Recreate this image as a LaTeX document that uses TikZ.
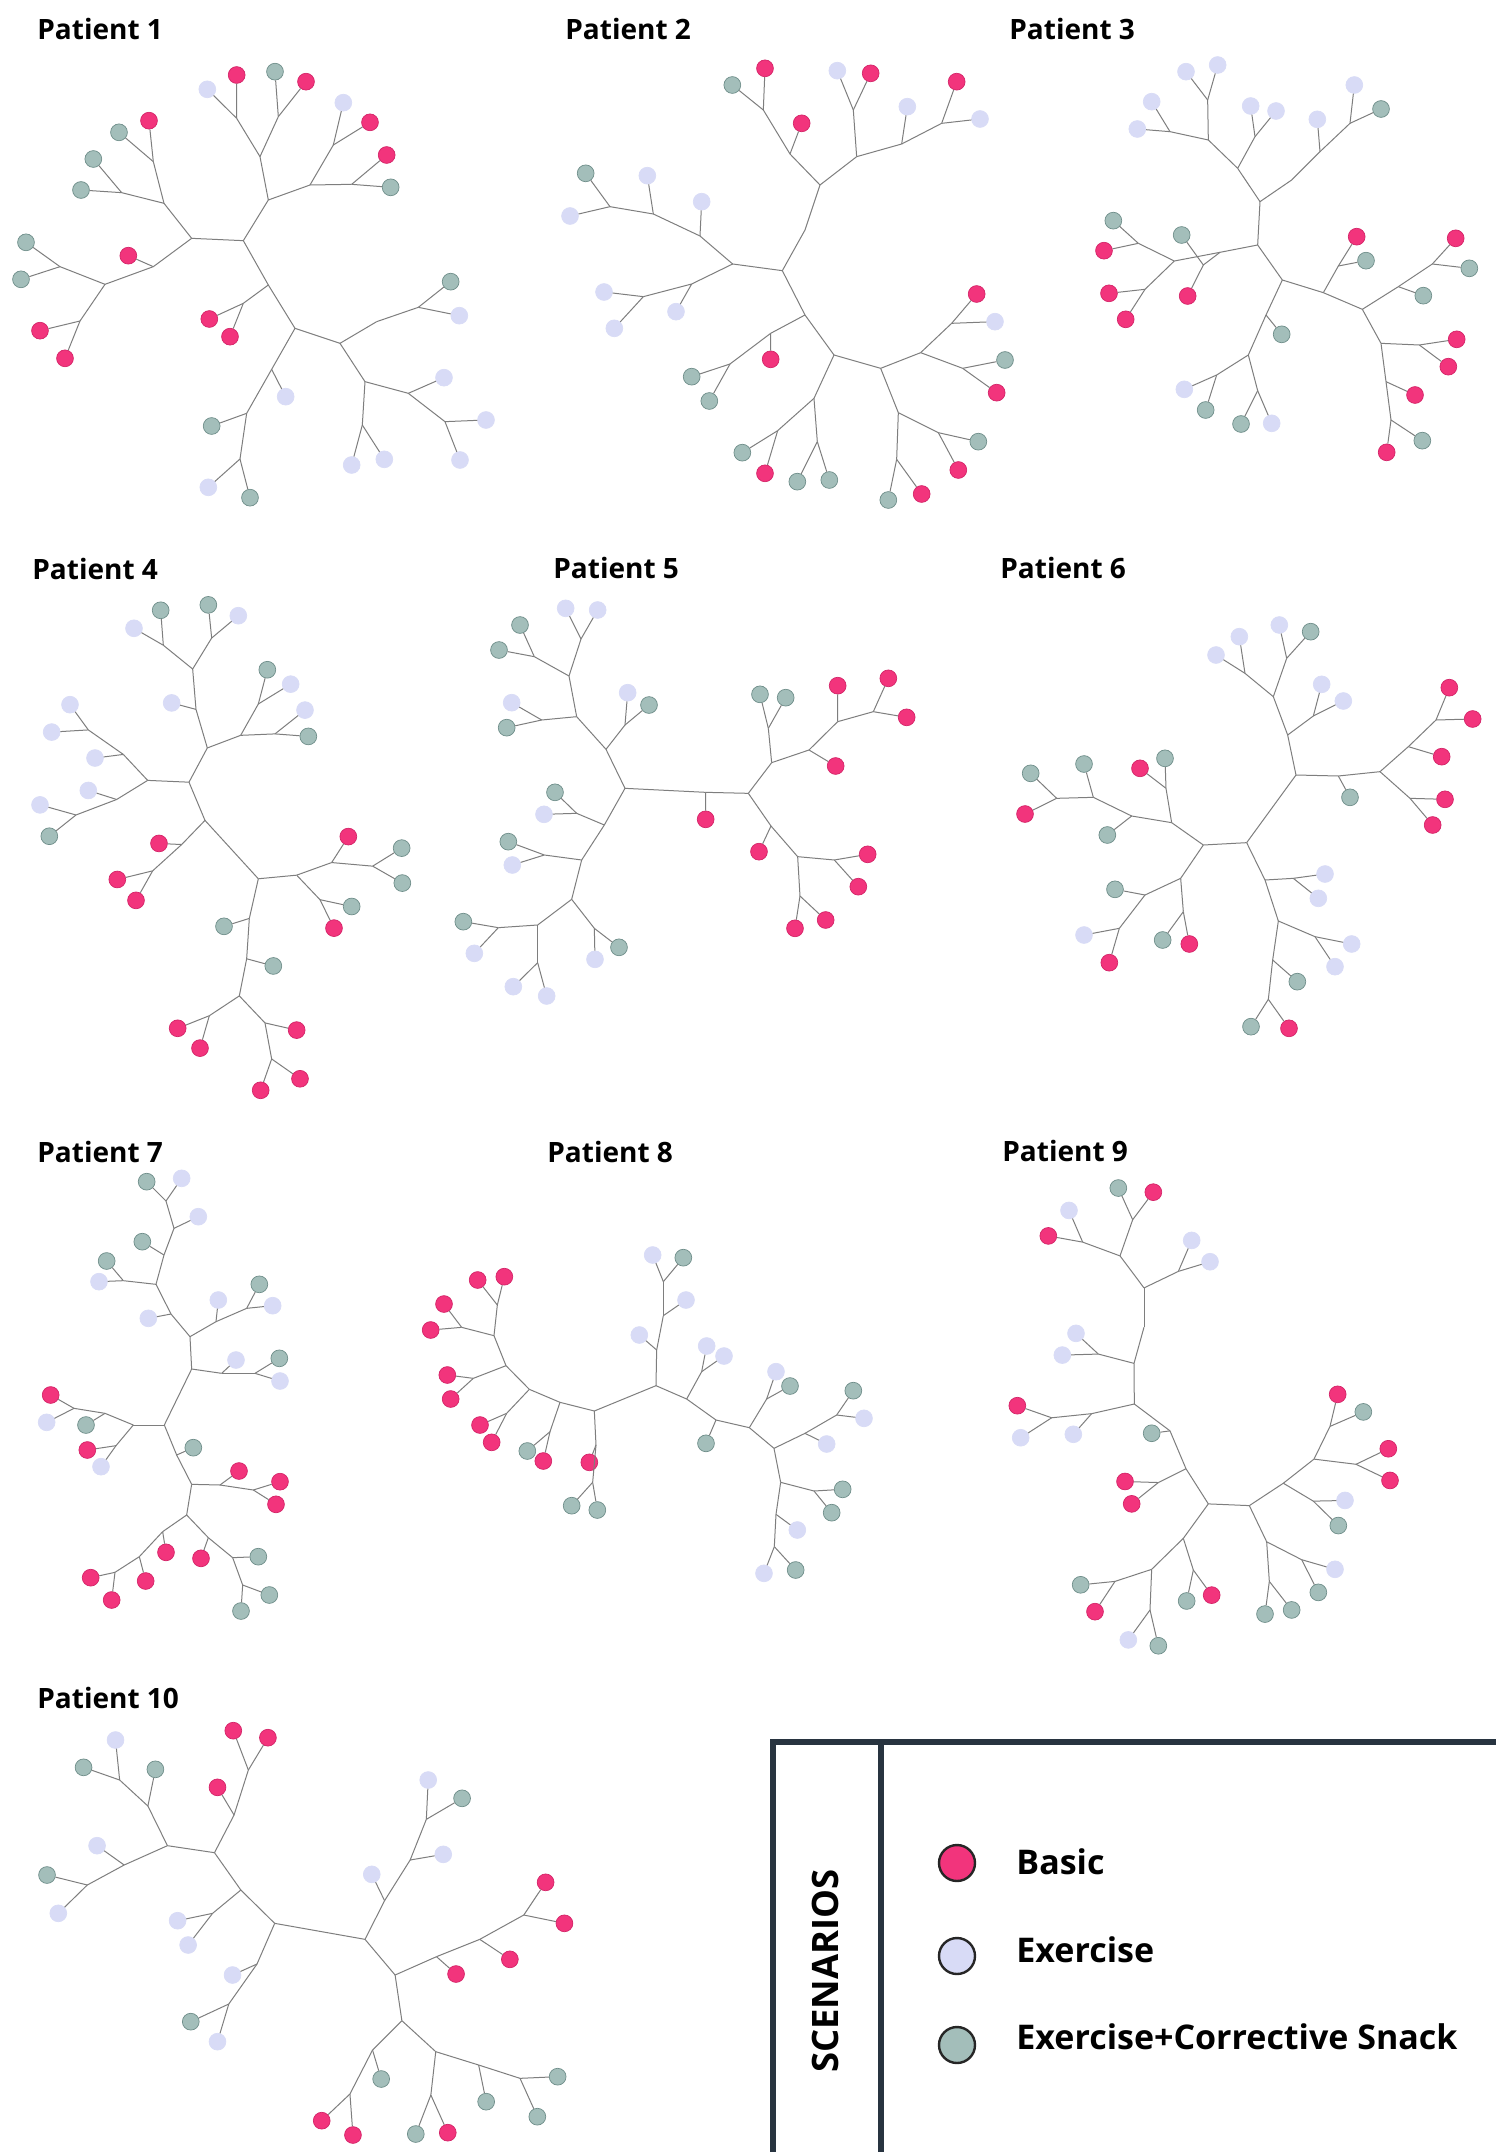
\documentclass[tikz,border=0pt]{standalone}
\usepackage{fontspec}
\setmainfont{Open Sans}
\usetikzlibrary{shapes.geometric}
\definecolor{cbas}{HTML}{F2347C}
\definecolor{cbasd}{HTML}{D42468}
\definecolor{cexe}{HTML}{D8DBF6}
\definecolor{csna}{HTML}{A3BEBA}
\definecolor{csnad}{HTML}{6F8E8A}
\definecolor{clnk}{HTML}{7E7E7E}
\definecolor{cleg}{HTML}{283440}
\newcounter{lfc}
\newcommand\trj[3]{\coordinate (#1) at (#2); \draw[lnk] (#3) -- (#1);}
\newcommand\trl[3]{\stepcounter{lfc}\node[#2] (lf\arabic{lfc}) at (#3) {}; \draw[lnk] (#1) -- (lf\arabic{lfc});}
\tikzset{
  lnk/.style={draw=clnk, line width=0.5pt},
  leaf/.style={circle, inner sep=0pt, minimum size=8.4pt, line width=0.35pt},
  bas/.style={leaf, fill=cbas, draw=cbasd},
  exe/.style={leaf, fill=cexe, draw=cexe},
  sna/.style={leaf, fill=csna, draw=csnad},
  ttl/.style={anchor=west, inner sep=0pt, font=\bfseries\fontsize{14}{16}\selectfont},
  legline/.style={draw=cleg, line width=2.8pt},
  legkey/.style={circle, inner sep=0pt, minimum size=18pt, draw=black!85, line width=1.2pt},
  legtxt/.style={anchor=west, inner sep=0pt, font=\bfseries\fontsize{17}{20}\selectfont},
}
\begin{document}
\begin{tikzpicture}[x=0.5pt,y=-0.5pt]
\fill[white] (0,0) rectangle (1495,2152);
\useasboundingbox (0,0) rectangle (1495,2152);

% titles
\node[ttl] (t1) at (37,29) {Patient 1};
\node[ttl] (t2) at (565,29) {Patient 2};
\node[ttl] (t3) at (1009,29) {Patient 3};
\node[ttl] (t4) at (32,569) {Patient 4};
\node[ttl] (t5) at (553,568) {Patient 5};
\node[ttl] (t6) at (1000,568) {Patient 6};
\node[ttl] (t7) at (37,1152) {Patient 7};
\node[ttl] (t8) at (547,1152) {Patient 8};
\node[ttl] (t9) at (1002,1151) {Patient 9};
\node[ttl] (t10) at (37,1698) {Patient 10};

% Patient 1
\begin{scope}[shift={(0,0)},scale=0.33333]
\coordinate (A0) at (730,722);
\trj{A1}{575,715}{A0}
\trj{A2}{805,600}{A0}
\trj{A3}{805,855}{A0}
\trj{A4}{780,470}{A2}
\trj{A5}{710,355}{A4}
\trl{A5}{exe}{622,268} \trl{A5}{bas}{710,225}
\trj{A6}{835,350}{A4}
\trl{A6}{sna}{825,215} \trl{A6}{bas}{918,245}
\trj{A7}{930,555}{A2}
\trj{A8}{1000,435}{A7}
\trl{A8}{exe}{1030,308} \trl{A8}{bas}{1110,367}
\trj{A9}{1055,553}{A7}
\trl{A9}{bas}{1160,465} \trl{A9}{sna}{1172,562}
\trj{A10}{492,610}{A1}
\trj{A11}{460,485}{A10}
\trl{A11}{bas}{447,362} \trl{A11}{sna}{357,397}
\trj{A12}{365,578}{A10}
\trl{A12}{sna}{280,477} \trl{A12}{sna}{243,570}
\trj{A13}{460,800}{A1}
\trl{A13}{bas}{385,767}
\trj{A14}{315,853}{A13}
\trj{A15}{180,800}{A14}
\trl{A15}{sna}{78,727} \trl{A15}{sna}{63,838}
\trj{A16}{240,963}{A14}
\trl{A16}{bas}{120,992} \trl{A16}{bas}{195,1075}
\trj{A17}{730,910}{A3}
\trl{A17}{bas}{628,957} \trl{A17}{bas}{690,1010}
\trj{A18}{885,985}{A3}
\trj{A19}{815,1108}{A18}
\trl{A19}{exe}{857,1190}
\trj{A20}{740,1240}{A19}
\trl{A20}{sna}{635,1278}
\trj{A21}{720,1377}{A20}
\trl{A21}{exe}{625,1462} \trl{A21}{sna}{750,1493}
\trj{A22}{1020,1030}{A18}
\trj{A23}{1130,965}{A22}
\trj{A24}{1255,922}{A23}
\trl{A24}{sna}{1352,845} \trl{A24}{exe}{1378,947}
\trj{A25}{1095,1145}{A22}
\trj{A26}{1087,1275}{A25}
\trl{A26}{exe}{1055,1395} \trl{A26}{exe}{1153,1378}
\trj{A27}{1225,1180}{A25}
\trl{A27}{exe}{1332,1133}
\trj{A28}{1335,1265}{A27}
\trl{A28}{exe}{1458,1260} \trl{A28}{exe}{1380,1380}
\end{scope}

% Patient 2
\begin{scope}[shift={(550,0)},scale=0.33333]
\coordinate (B0) at (697,812);
\trj{B1}{548,792}{B0}
\trj{B2}{765,690}{B0}
\trj{B3}{810,555}{B2}
\trj{B4}{765,945}{B0}
\trj{B5}{720,462}{B3}
\trl{B5}{bas}{755,370}
\trj{B6}{640,330}{B5}
\trl{B6}{sna}{547,255} \trl{B6}{bas}{645,205}
\trj{B7}{920,470}{B3}
\trj{B8}{910,330}{B7}
\trl{B8}{exe}{862,212} \trl{B8}{bas}{962,220}
\trj{B9}{1055,432}{B7}
\trl{B9}{exe}{1072,320}
\trj{B10}{1175,370}{B9}
\trl{B10}{bas}{1220,245} \trl{B10}{exe}{1290,357}
\trj{B11}{450,708}{B1}
\trl{B11}{exe}{455,605}
\trj{B12}{310,642}{B11}
\trl{B12}{exe}{292,527}
\trj{B13}{180,620}{B12}
\trl{B13}{sna}{107,520} \trl{B13}{exe}{60,648}
\trj{B14}{425,852}{B1}
\trl{B14}{exe}{378,935}
\trj{B15}{280,890}{B14}
\trl{B15}{exe}{162,876} \trl{B15}{exe}{193,985}
\trj{B16}{662,1000}{B4}
\trl{B16}{bas}{662,1078}
\trj{B17}{540,1092}{B16}
\trl{B17}{sna}{425,1130} \trl{B17}{sna}{478,1203}
\trj{B18}{852,1065}{B4}
\trj{B19}{792,1195}{B18}
\trj{B20}{683,1292}{B19}
\trl{B20}{sna}{577,1358} \trl{B20}{bas}{645,1420}
\trj{B21}{802,1325}{B19}
\trl{B21}{sna}{742,1445} \trl{B21}{sna}{838,1440}
\trj{B22}{992,1105}{B18}
\trj{B23}{1112,1058}{B22}
\trj{B24}{1205,970}{B23}
\trl{B24}{bas}{1280,882} \trl{B24}{exe}{1335,965}
\trj{B25}{1238,1105}{B23}
\trl{B25}{sna}{1365,1080} \trl{B25}{bas}{1340,1178}
\trj{B26}{1045,1238}{B22}
\trj{B27}{1165,1298}{B26}
\trl{B27}{sna}{1285,1325} \trl{B27}{bas}{1225,1410}
\trj{B28}{1040,1378}{B26}
\trl{B28}{sna}{1015,1500} \trl{B28}{bas}{1115,1482}
\end{scope}

% Patient 3
\begin{scope}[shift={(1085,0)},scale=0.33333]
\coordinate (C0) at (518,735);
\trj{C1}{525,605}{C0}
\trj{C2}{405,757}{C0}
\trj{C3}{592,840}{C0}
\trj{C4}{355,795}{C2}
\trl{C4}{sna}{290,705} \trl{C4}{bas}{308,888}
\trj{C5}{268,783}{C2}
\trj{C6}{160,730}{C5}
\trl{C6}{sna}{85,662} \trl{C6}{bas}{57,752}
\trj{C7}{180,868}{C5}
\trl{C7}{bas}{72,880} \trl{C7}{bas}{122,958}
\trj{C8}{458,505}{C1}
\trj{C9}{370,420}{C8}
\trj{C10}{368,300}{C9}
\trl{C10}{exe}{303,215} \trl{C10}{exe}{398,195}
\trj{C11}{255,395}{C9}
\trl{C11}{exe}{200,305} \trl{C11}{exe}{157,387}
\trj{C12}{510,410}{C8}
\trl{C12}{exe}{497,318} \trl{C12}{exe}{573,333}
\trj{C13}{620,540}{C1}
\trj{C14}{705,455}{C13}
\trl{C14}{exe}{697,358}
\trj{C15}{795,370}{C14}
\trl{C15}{exe}{808,255} \trl{C15}{sna}{888,327}
\trj{C16}{543,945}{C3}
\trl{C16}{sna}{590,1003}
\trj{C17}{490,1065}{C16}
\trj{C18}{395,1125}{C17}
\trl{C18}{exe}{298,1168} \trl{C18}{sna}{362,1230}
\trj{C19}{518,1172}{C17}
\trl{C19}{sna}{468,1272} \trl{C19}{exe}{560,1270}
\trj{C20}{715,878}{C3}
\trj{C21}{760,798}{C20}
\trl{C21}{bas}{815,710} \trl{C21}{sna}{843,782}
\trj{C22}{832,928}{C20}
\trj{C23}{940,860}{C22}
\trl{C23}{sna}{1015,887}
\trj{C24}{1042,792}{C23}
\trl{C24}{bas}{1112,715} \trl{C24}{sna}{1153,805}
\trj{C25}{888,1030}{C22}
\trj{C26}{1003,1035}{C25}
\trl{C26}{bas}{1115,1018} \trl{C26}{bas}{1090,1100}
\trj{C27}{903,1145}{C25}
\trl{C27}{bas}{990,1185}
\trj{C28}{918,1260}{C27}
\trl{C28}{bas}{905,1357} \trl{C28}{sna}{1012,1322}
\end{scope}

% Patient 4
\begin{scope}[shift={(0,540)},xscale=0.33333,yscale=0.36036]
\coordinate (D0) at (567,672);
\trj{D1}{443,667}{D0}
\trj{D2}{622,577}{D0}
\trj{D3}{615,778}{D0}
\trj{D4}{588,470}{D2}
\trl{D4}{exe}{515,452}
\trj{D5}{578,358}{D4}
\trj{D6}{490,292}{D5}
\trl{D6}{exe}{402,245} \trl{D6}{sna}{482,195}
\trj{D7}{635,272}{D5}
\trl{D7}{sna}{625,180} \trl{D7}{exe}{715,210}
\trj{D8}{722,542}{D2}
\trj{D9}{775,455}{D8}
\trl{D9}{sna}{802,360} \trl{D9}{exe}{872,400}
\trj{D10}{825,538}{D8}
\trl{D10}{exe}{915,472} \trl{D10}{sna}{925,545}
\trj{D11}{370,595}{D1}
\trl{D11}{exe}{285,605}
\trj{D12}{265,527}{D11}
\trl{D12}{exe}{210,457} \trl{D12}{exe}{155,533}
\trj{D13}{350,720}{D1}
\trl{D13}{exe}{265,695}
\trj{D14}{228,763}{D13}
\trl{D14}{exe}{120,735} \trl{D14}{sna}{148,822}
\trj{D15}{545,845}{D3}
\trl{D15}{bas}{477,842}
\trj{D16}{458,918}{D15}
\trl{D16}{bas}{352,942} \trl{D16}{bas}{408,1000}
\trj{D17}{775,940}{D3}
\trj{D18}{890,930}{D17}
\trj{D19}{960,998}{D18}
\trl{D19}{sna}{1055,1017} \trl{D19}{bas}{1002,1077}
\trj{D20}{995,895}{D18}
\trl{D20}{bas}{1045,823}
\trj{D21}{1118,905}{D20}
\trl{D21}{sna}{1205,855} \trl{D21}{sna}{1207,952}
\trj{D22}{748,1050}{D17}
\trl{D22}{sna}{672,1072}
\trj{D23}{740,1162}{D22}
\trl{D23}{sna}{820,1182}
\trj{D24}{718,1265}{D23}
\trj{D25}{628,1320}{D24}
\trl{D25}{bas}{533,1355} \trl{D25}{bas}{600,1410}
\trj{D26}{795,1340}{D24}
\trl{D26}{bas}{890,1360}
\trj{D27}{815,1440}{D26}
\trl{D27}{bas}{900,1495} \trl{D27}{bas}{782,1527}
\end{scope}

% Patient 5
\begin{scope}[shift={(445,540)},scale=0.33333]
\coordinate (E0) at (540,745);
\trj{E1}{782,757}{E0}
\trl{E1}{bas}{782,838}
\trj{E2}{910,760}{E1}
\trj{E3}{483,628}{E0}
\trj{E4}{540,555}{E3}
\trl{E4}{exe}{548,458} \trl{E4}{sna}{612,495}
\trj{E5}{395,530}{E3}
\trj{E6}{290,540}{E5}
\trl{E6}{exe}{200,488} \trl{E6}{sna}{185,563}
\trj{E7}{372,408}{E5}
\trj{E8}{268,350}{E7}
\trl{E8}{sna}{225,255} \trl{E8}{sna}{162,330}
\trj{E9}{408,297}{E7}
\trl{E9}{exe}{362,205} \trl{E9}{exe}{458,210}
\trj{E10}{478,855}{E0}
\trj{E11}{395,820}{E10}
\trl{E11}{sna}{330,757} \trl{E11}{exe}{297,823}
\trj{E12}{410,960}{E10}
\trj{E13}{298,945}{E12}
\trl{E13}{sna}{190,905} \trl{E13}{exe}{202,975}
\trj{E14}{380,1078}{E12}
\trj{E15}{278,1155}{E14}
\trj{E16}{160,1163}{E15}
\trl{E16}{sna}{55,1145} \trl{E16}{exe}{88,1240}
\trj{E17}{278,1268}{E15}
\trl{E17}{exe}{205,1340} \trl{E17}{exe}{305,1368}
\trj{E18}{448,1165}{E14}
\trl{E18}{exe}{450,1258} \trl{E18}{sna}{522,1222}
\trj{E19}{980,668}{E2}
\trj{E20}{970,565}{E19}
\trl{E20}{sna}{945,463} \trl{E20}{sna}{1022,473}
\trj{E21}{1092,630}{E19}
\trl{E21}{bas}{1172,678}
\trj{E22}{1178,545}{E21}
\trl{E22}{bas}{1178,437}
\trj{E23}{1285,515}{E22}
\trl{E23}{bas}{1330,415} \trl{E23}{bas}{1385,532}
\trj{E24}{978,858}{E2}
\trl{E24}{bas}{942,935}
\trj{E25}{1058,950}{E24}
\trj{E26}{1168,960}{E25}
\trl{E26}{bas}{1268,943} \trl{E26}{bas}{1240,1040}
\trj{E27}{1065,1068}{E25}
\trl{E27}{bas}{1050,1165} \trl{E27}{bas}{1142,1140}
\end{scope}

% Patient 6
\begin{scope}[shift={(990,540)},scale=0.33333]
\coordinate (F0) at (640,915);
\trj{F1}{770,908}{F0}
\trj{F2}{918,705}{F1}
\trj{F3}{825,1020}{F1}
\trj{F4}{893,585}{F2}
\trj{F5}{850,470}{F4}
\trj{F6}{765,400}{F5}
\trl{F6}{exe}{678,345} \trl{F6}{exe}{748,290}
\trj{F7}{890,355}{F5}
\trl{F7}{exe}{868,255} \trl{F7}{sna}{962,275}
\trj{F8}{970,528}{F4}
\trl{F8}{exe}{995,433} \trl{F8}{exe}{1060,483}
\trj{F9}{1045,708}{F2}
\trl{F9}{sna}{1080,772}
\trj{F10}{1170,695}{F9}
\trj{F11}{1255,620}{F10}
\trl{F11}{bas}{1355,650}
\trj{F12}{1338,540}{F11}
\trl{F12}{bas}{1378,443} \trl{F12}{bas}{1448,537}
\trj{F13}{1260,775}{F10}
\trl{F13}{bas}{1365,778} \trl{F13}{bas}{1328,855}
\trj{F14}{545,848}{F0}
\trj{F15}{528,745}{F14}
\trl{F15}{bas}{450,685} \trl{F15}{sna}{525,655}
\trj{F16}{425,828}{F14}
\trl{F16}{sna}{352,885}
\trj{F17}{310,772}{F16}
\trl{F17}{sna}{282,672}
\trj{F18}{200,775}{F17}
\trl{F18}{sna}{122,700} \trl{F18}{bas}{105,822}
\trj{F19}{572,1015}{F0}
\trj{F20}{465,1065}{F19}
\trl{F20}{sna}{375,1048}
\trj{F21}{388,1165}{F20}
\trl{F21}{exe}{282,1185} \trl{F21}{bas}{358,1268}
\trj{F22}{580,1115}{F19}
\trl{F22}{sna}{518,1200} \trl{F22}{bas}{598,1212}
\trj{F23}{910,1015}{F3}
\trl{F23}{exe}{1005,1002} \trl{F23}{exe}{985,1075}
\trj{F24}{865,1143}{F3}
\trj{F25}{975,1190}{F24}
\trl{F25}{exe}{1085,1212} \trl{F25}{exe}{1035,1280}
\trj{F26}{848,1260}{F24}
\trl{F26}{sna}{922,1325}
\trj{F27}{835,1378}{F26}
\trl{F27}{sna}{783,1460} \trl{F27}{bas}{897,1465}
\end{scope}

% Patient 7
\begin{scope}[shift={(0,1125)},scale=0.33333]
\coordinate (G0) at (493,900);
\trj{G1}{575,732}{G0}
\trj{G2}{400,900}{G0}
\trj{G3}{530,990}{G0}
\trl{G3}{sna}{580,968}
\trj{G4}{575,1078}{G3}
\trj{G5}{665,745}{G1}
\trl{G5}{exe}{708,705}
\trj{G6}{765,745}{G5}
\trl{G6}{sna}{838,700} \trl{G6}{exe}{840,768}
\trj{G7}{570,635}{G1}
\trj{G8}{648,590}{G7}
\trl{G8}{exe}{655,525}
\trj{G9}{740,550}{G8}
\trl{G9}{sna}{778,478} \trl{G9}{exe}{818,542}
\trj{G10}{513,567}{G7}
\trl{G10}{exe}{445,580}
\trj{G11}{468,478}{G10}
\trj{G12}{370,467}{G11}
\trl{G12}{sna}{320,408} \trl{G12}{exe}{297,470}
\trj{G13}{492,390}{G11}
\trl{G13}{sna}{427,350}
\trj{G14}{522,310}{G13}
\trl{G14}{exe}{595,275}
\trj{G15}{498,228}{G14}
\trl{G15}{sna}{440,170} \trl{G15}{exe}{545,160}
\trj{G16}{315,865}{G2}
\trl{G16}{sna}{258,900}
\trj{G17}{222,850}{G16}
\trl{G17}{bas}{152,810} \trl{G17}{exe}{140,892}
\trj{G18}{348,962}{G2}
\trl{G18}{bas}{262,975} \trl{G18}{exe}{303,1025}
\trj{G19}{660,1080}{G4}
\trl{G19}{bas}{717,1038}
\trj{G20}{760,1095}{G19}
\trl{G20}{bas}{840,1070} \trl{G20}{bas}{828,1138}
\trj{G21}{560,1170}{G4}
\trj{G22}{488,1220}{G21}
\trl{G22}{bas}{498,1282}
\trj{G23}{418,1295}{G22}
\trl{G23}{bas}{437,1368}
\trj{G24}{345,1342}{G23}
\trl{G24}{bas}{272,1358} \trl{G24}{bas}{335,1425}
\trj{G25}{625,1238}{G21}
\trl{G25}{bas}{603,1300}
\trj{G26}{698,1298}{G25}
\trl{G26}{sna}{775,1295}
\trj{G27}{728,1380}{G26}
\trl{G27}{sna}{808,1410} \trl{G27}{sna}{723,1458}
\end{scope}

% Patient 8
\begin{scope}[shift={(410,1125)},scale=0.33333]
\coordinate (H0) at (738,782);
\trj{H1}{553,858}{H0}
\trj{H2}{830,822}{H0}
\trj{H3}{740,675}{H0}
\trl{H3}{exe}{688,630}
\trj{H4}{760,572}{H3}
\trl{H4}{exe}{828,525}
\trj{H5}{760,470}{H4}
\trl{H5}{exe}{728,390} \trl{H5}{sna}{820,398}
\trj{H6}{558,960}{H1}
\trl{H6}{bas}{538,1012}
\trj{H7}{548,1072}{H6}
\trl{H7}{sna}{485,1142} \trl{H7}{sna}{562,1155}
\trj{H8}{450,832}{H1}
\trj{H9}{420,920}{H8}
\trl{H9}{sna}{352,978} \trl{H9}{bas}{400,1008}
\trj{H10}{358,793}{H8}
\trj{H11}{290,865}{H10}
\trl{H11}{bas}{210,900} \trl{H11}{bas}{245,952}
\trj{H12}{288,722}{H10}
\trj{H13}{190,760}{H12}
\trl{H13}{bas}{112,750} \trl{H13}{bas}{122,822}
\trj{H14}{252,632}{H12}
\trj{H15}{262,540}{H14}
\trl{H15}{bas}{203,465} \trl{H15}{bas}{283,455}
\trj{H16}{155,607}{H14}
\trl{H16}{bas}{102,537} \trl{H16}{bas}{62,615}
\trj{H17}{875,740}{H2}
\trl{H17}{exe}{890,663} \trl{H17}{exe}{942,693}
\trj{H18}{918,885}{H2}
\trl{H18}{sna}{888,955}
\trj{H19}{1018,908}{H18}
\trj{H20}{1070,822}{H19}
\trl{H20}{exe}{1098,740} \trl{H20}{sna}{1140,783}
\trj{H21}{1092,970}{H19}
\trj{H22}{1185,925}{H21}
\trl{H22}{exe}{1250,957}
\trj{H23}{1280,870}{H22}
\trl{H23}{sna}{1330,797} \trl{H23}{exe}{1362,880}
\trj{H24}{1112,1072}{H21}
\trj{H25}{1212,1098}{H24}
\trl{H25}{sna}{1298,1093} \trl{H25}{sna}{1265,1163}
\trj{H26}{1098,1168}{H24}
\trl{H26}{exe}{1162,1215}
\trj{H27}{1093,1265}{H26}
\trl{H27}{exe}{1062,1345} \trl{H27}{sna}{1157,1335}
\end{scope}

% Patient 9
\begin{scope}[shift={(990,1125)},xscale=0.33333,yscale=0.34440]
\coordinate (I0) at (655,1100);
\trj{I1}{778,1105}{I0}
\trj{I2}{588,998}{I0}
\trj{I3}{505,1038}{I2}
\trl{I3}{bas}{405,1035} \trl{I3}{bas}{425,1100}
\trj{I4}{540,888}{I2}
\trl{I4}{sna}{485,895}
\trj{I5}{433,810}{I4}
\trj{I6}{305,838}{I5}
\trl{I6}{exe}{250,898}
\trj{I7}{185,850}{I6}
\trl{I7}{bas}{82,815} \trl{I7}{exe}{92,908}
\trj{I8}{432,692}{I5}
\trj{I9}{325,665}{I8}
\trl{I9}{exe}{258,605} \trl{I9}{exe}{217,668}
\trj{I10}{462,587}{I8}
\trj{I11}{462,473}{I10}
\trj{I12}{390,380}{I11}
\trj{I13}{428,275}{I12}
\trl{I13}{sna}{385,183} \trl{I13}{bas}{490,195}
\trj{I14}{278,340}{I12}
\trl{I14}{exe}{237,248} \trl{I14}{bas}{175,322}
\trj{I15}{565,425}{I11}
\trl{I15}{exe}{605,335} \trl{I15}{exe}{660,397}
\trj{I16}{580,1200}{I0}
\trj{I17}{610,1292}{I16}
\trl{I17}{sna}{590,1382} \trl{I17}{bas}{665,1365}
\trj{I18}{485,1290}{I16}
\trj{I19}{375,1325}{I18}
\trl{I19}{sna}{272,1335} \trl{I19}{bas}{315,1413}
\trj{I20}{480,1408}{I18}
\trl{I20}{exe}{415,1495} \trl{I20}{sna}{505,1512}
\trj{I21}{880,1040}{I1}
\trj{I22}{972,970}{I21}
\trj{I23}{1020,875}{I22}
\trl{I23}{bas}{1043,782} \trl{I23}{sna}{1120,833}
\trj{I24}{1098,985}{I22}
\trl{I24}{bas}{1195,940} \trl{I24}{bas}{1200,1032}
\trj{I25}{970,1092}{I21}
\trl{I25}{exe}{1065,1090} \trl{I25}{sna}{1045,1163}
\trj{I26}{830,1210}{I1}
\trj{I27}{935,1262}{I26}
\trl{I27}{exe}{1035,1290} \trl{I27}{sna}{985,1357}
\trj{I28}{838,1325}{I26}
\trl{I28}{sna}{825,1420} \trl{I28}{sna}{905,1408}
\end{scope}

% Patient 10
\begin{scope}[shift={(0,1680)},xscale=0.37628,yscale=0.33333]
\coordinate (J0) at (730,730);
\trj{J1}{970,778}{J0}
\trj{J2}{640,630}{J0}
\trj{J3}{565,700}{J2}
\trl{J3}{exe}{472,722} \trl{J3}{exe}{500,795}
\trj{J4}{570,518}{J2}
\trj{J5}{622,405}{J4}
\trl{J5}{bas}{578,322}
\trj{J6}{660,270}{J5}
\trl{J6}{bas}{620,152} \trl{J6}{bas}{712,173}
\trj{J7}{445,497}{J4}
\trj{J8}{393,378}{J7}
\trl{J8}{sna}{413,268}
\trj{J9}{318,300}{J8}
\trl{J9}{exe}{307,180} \trl{J9}{sna}{222,262}
\trj{J10}{330,555}{J7}
\trl{J10}{exe}{258,497}
\trj{J11}{232,615}{J10}
\trl{J11}{sna}{125,585} \trl{J11}{exe}{155,700}
\trj{J12}{683,852}{J0}
\trl{J12}{exe}{618,885}
\trj{J13}{608,972}{J12}
\trl{J13}{sna}{507,1025} \trl{J13}{exe}{578,1085}
\trj{J14}{1022,662}{J1}
\trl{J14}{exe}{988,583}
\trj{J15}{1090,540}{J14}
\trl{J15}{exe}{1178,523}
\trj{J16}{1133,418}{J15}
\trl{J16}{exe}{1138,300} \trl{J16}{sna}{1228,355}
\trj{J17}{1050,885}{J1}
\trj{J18}{1160,830}{J17}
\trl{J18}{bas}{1212,882}
\trj{J19}{1275,778}{J18}
\trl{J19}{bas}{1355,838}
\trj{J20}{1392,705}{J19}
\trl{J20}{bas}{1450,607} \trl{J20}{bas}{1500,730}
\trj{J21}{1068,1022}{J17}
\trj{J22}{990,1110}{J21}
\trl{J22}{sna}{1013,1197}
\trj{J23}{930,1242}{J22}
\trl{J23}{bas}{855,1322} \trl{J23}{bas}{938,1365}
\trj{J24}{1158,1115}{J21}
\trj{J25}{1145,1245}{J24}
\trl{J25}{sna}{1105,1362} \trl{J25}{bas}{1190,1358}
\trj{J26}{1272,1155}{J24}
\trl{J26}{sna}{1292,1265}
\trj{J27}{1382,1195}{J26}
\trl{J27}{sna}{1482,1190} \trl{J27}{sna}{1428,1310}
\end{scope}

% Legend
\draw[legline] (773,2160) -- (773,1742) -- (1500,1742);
\draw[legline] (881,1742) -- (881,2160);
\node[rotate=90, inner sep=0pt, font=\bfseries\fontsize{18.2}{20}\selectfont] (scen) at (825,1971) {SCENARIOS};
\node[legkey, fill=cbas] (kb) at (957,1863) {};
\node[legkey, fill=cexe] (ke) at (957,1956) {};
\node[legkey, fill=csna] (ks) at (957,2045) {};
\node[legtxt] (lb) at (1016,1862) {Basic};
\node[legtxt] (le) at (1016,1950) {Exercise};
\node[legtxt] (ls) at (1016,2037) {Exercise+Corrective Snack};
\end{tikzpicture}
\end{document}
